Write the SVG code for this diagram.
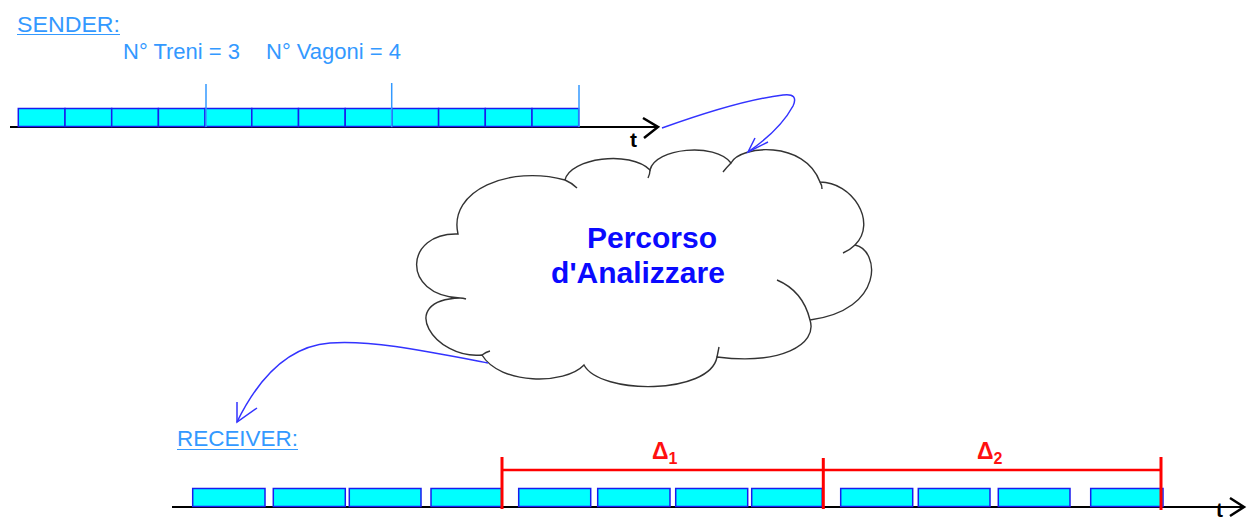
<svg xmlns="http://www.w3.org/2000/svg" width="1255" height="523" viewBox="0 0 1255 523">
<style>
.lbl{font-family:"Liberation Sans",Arial,sans-serif;font-size:22px;fill:#3399ff}
.ul{stroke:#3399ff;stroke-width:1.2}
.box{fill:#00ffff;stroke:#1a1aee;stroke-width:1.5}
.tick{stroke:#3399ff;stroke-width:1.5}
.axis{stroke:#000;stroke-width:2;fill:none}
.head{stroke:#000;stroke-width:2.5;fill:none;stroke-linejoin:miter}
.tlbl{font-family:"Liberation Sans",Arial,sans-serif;font-size:21px;font-weight:bold;fill:#000}
.cloud{fill:#fff;stroke:#333;stroke-width:1.4}
.tail{fill:none;stroke:#333;stroke-width:1.4}
.ctext{font-family:"Liberation Sans",Arial,sans-serif;font-size:30px;font-weight:bold;fill:#0a0aff;text-anchor:middle}
.conn{fill:none;stroke:#3333ff;stroke-width:1.5}
.red{stroke:#ff0000;fill:none}
.dl{font-family:"Liberation Sans",Arial,sans-serif;font-size:23px;font-weight:bold;fill:#ff1010}
.ds{font-size:16px}
</style>

<g id="sender-label">
<text class="lbl" x="17" y="32" textLength="103" lengthAdjust="spacingAndGlyphs">SENDER:</text>
<line class="ul" x1="17" y1="34.5" x2="120" y2="34.5"/>
</g>
<g id="sender-params">
<text class="lbl" x="123" y="59">N° Treni = 3</text>
<text class="lbl" x="266" y="59">N° Vagoni = 4</text>
</g>

<g id="sender-train">
<line class="axis" x1="10" y1="127" x2="657" y2="127"/>
<polyline class="head" points="643,118 658,127 644,138"/>
<text class="tlbl" x="630" y="147">t</text>
<rect class="box" x="18.3" y="108.5" width="46.7" height="18"/>
<rect class="box" x="65" y="108.5" width="46.7" height="18"/>
<rect class="box" x="111.7" y="108.5" width="46.7" height="18"/>
<rect class="box" x="158.4" y="108.5" width="46.7" height="18"/>
<rect class="box" x="205.1" y="108.5" width="46.7" height="18"/>
<rect class="box" x="251.8" y="108.5" width="46.7" height="18"/>
<rect class="box" x="298.5" y="108.5" width="46.7" height="18"/>
<rect class="box" x="345.2" y="108.5" width="46.7" height="18"/>
<rect class="box" x="391.9" y="108.5" width="46.7" height="18"/>
<rect class="box" x="438.6" y="108.5" width="46.7" height="18"/>
<rect class="box" x="485.3" y="108.5" width="46.7" height="18"/>
<rect class="box" x="532" y="108.5" width="46.7" height="18"/>
<line class="tick" x1="206" y1="84" x2="206" y2="127"/>
<line class="tick" x1="391.7" y1="83" x2="391.7" y2="127"/>
<line class="tick" x1="579" y1="85" x2="579" y2="127"/>
</g>

<g id="cloud">
<path class="cloud" d="M458,234 C448,190 510,165 565,180 C570,158 630,150 650,170 C655,148 715,142 731,163 C740,145 805,140 820,182 C852,182 878,222 855,245 C880,250 885,310 810,320 C818,345 780,365 717,357 C710,395 600,395 584,365 C565,385 500,385 482,355 C435,360 395,300 460,298 C400,295 405,232 458,234 Z"/>
<path class="tail" d="M565,180 Q572,183 577,188"/>
<path class="tail" d="M650,170 Q650,174 648,178"/>
<path class="tail" d="M731,163 Q727,167 723,172"/>
<path class="tail" d="M820,182 Q822,185 822,189"/>
<path class="tail" d="M855,245 Q850,250 843,253"/>
<path class="tail" d="M777,280 Q803,291 810,320"/>
<path class="tail" d="M717,357 Q718,352 719,347"/>
<path class="tail" d="M460,298 Q463,298 466,299"/>
<path class="tail" d="M482,355 Q486,352 490,351"/>
<text class="ctext" x="652" y="248">Percorso</text>
<text class="ctext" x="638" y="283">d'Analizzare</text>
</g>

<g id="receiver-label">
<text class="lbl" x="177" y="446" textLength="121" lengthAdjust="spacingAndGlyphs">RECEIVER:</text>
<line class="ul" x1="177" y1="449.5" x2="298" y2="449.5"/>
</g>

<g id="receiver-train">
<line class="axis" x1="172" y1="507" x2="1243" y2="507"/>
<polyline class="head" points="1230,498 1244,507 1230,516"/>
<text class="tlbl" x="1216" y="517" font-size="19">t</text>
<rect class="box" x="192.7" y="488.5" width="72.3" height="18"/>
<rect class="box" x="273.3" y="488.5" width="72" height="18"/>
<rect class="box" x="349.3" y="488.5" width="71.7" height="18"/>
<rect class="box" x="431" y="488.5" width="70.7" height="18"/>
<rect class="box" x="518.7" y="488.5" width="72" height="18"/>
<rect class="box" x="597.7" y="488.5" width="72.3" height="18"/>
<rect class="box" x="675.7" y="488.5" width="72" height="18"/>
<rect class="box" x="751.7" y="488.5" width="70.6" height="18"/>
<rect class="box" x="840.7" y="488.5" width="72" height="18"/>
<rect class="box" x="918.3" y="488.5" width="71.7" height="18"/>
<rect class="box" x="998.3" y="488.5" width="71.7" height="18"/>
<rect class="box" x="1090.7" y="488.5" width="72.3" height="18"/>
</g>

<g id="delta-markers">
<line class="red" x1="502" y1="470" x2="1161" y2="470" stroke-width="2.5"/>
<line class="red" x1="502" y1="457" x2="502" y2="509" stroke-width="3"/>
<line class="red" x1="823.3" y1="458" x2="823.3" y2="509" stroke-width="3"/>
<line class="red" x1="1161" y1="457" x2="1161" y2="510" stroke-width="3"/>
<text class="dl" x="652" y="459">Δ<tspan class="ds" dy="5">1</tspan></text>
<text class="dl" x="977" y="459">Δ<tspan class="ds" dy="5">2</tspan></text>
</g>

<g id="connectors">
<path class="conn" d="M662,128 Q740,100 783,95 Q799,93 793,106 Q780,130 748,152"/>
<polyline class="conn" points="755,138 748,152 768,142"/>
<path class="conn" d="M488,363 C420,350 370,340 330,343 C290,346 260,375 237,422"/>
<polyline class="conn" points="237,402 237,422 257,408"/>
</g>
</svg>
